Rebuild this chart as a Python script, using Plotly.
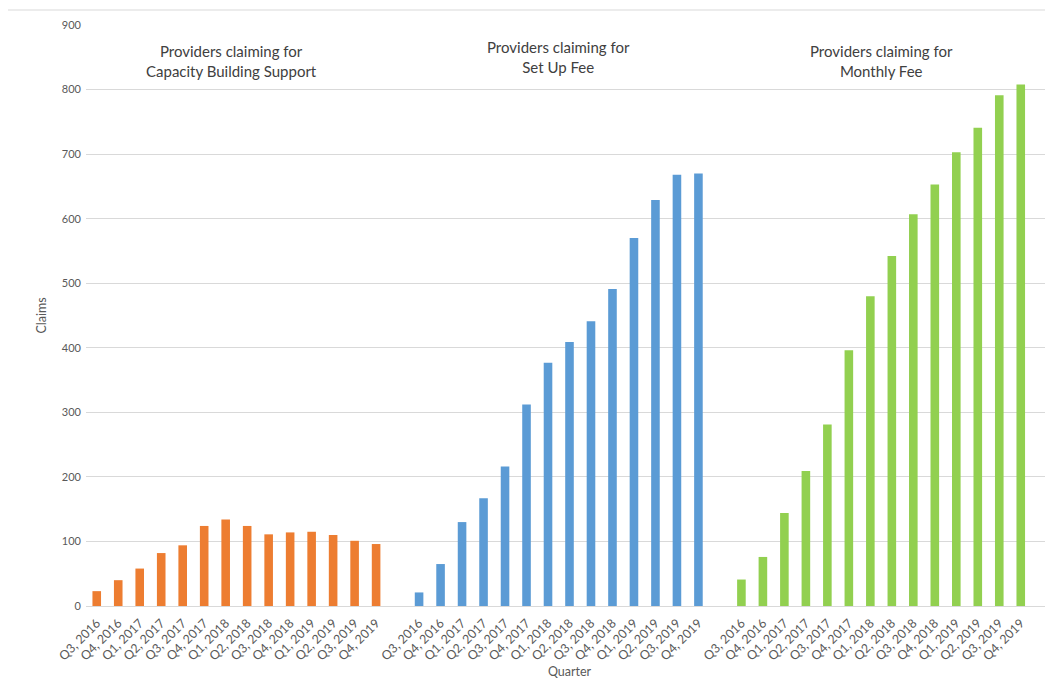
import plotly.graph_objects as go

quarters = ["Q3, 2016", "Q4, 2016", "Q1, 2017", "Q2, 2017", "Q3, 2017", "Q4, 2017",
            "Q1, 2018", "Q2, 2018", "Q3, 2018", "Q4, 2018", "Q1, 2019", "Q2, 2019",
            "Q3, 2019", "Q4, 2019"]

capacity_building = [23, 40, 58, 82, 94, 124, 134, 124, 111, 114, 115, 110, 101, 96]
set_up_fee = [21, 65, 130, 167, 216, 312, 377, 409, 441, 491, 570, 629, 668, 670]
monthly_fee = [41, 76, 144, 209, 281, 396, 480, 542, 607, 653, 703, 741, 791, 808]

group_titles = ["Providers claiming for<br>Capacity Building Support",
                "Providers claiming for<br>Set Up Fee",
                "Providers claiming for<br>Monthly Fee"]
colors = ["#ED7D31", "#5B9BD5", "#92D050"]
series = [capacity_building, set_up_fee, monthly_fee]

FONT = "Lato, 'Open Sans', sans-serif"
TICK_COLOR = "#595959"
GRID = "#d9d9d9"

fig = go.Figure()
tickvals, ticktext = [], []
stride = len(quarters) + 1  # one empty slot between groups
for g, vals in enumerate(series):
    xs = [g * stride + i for i in range(len(quarters))]
    tickvals += xs
    ticktext += quarters
    fig.add_trace(go.Bar(x=xs, y=vals, marker_color=colors[g], marker_line_width=0,
                         width=0.4, showlegend=False))

title_x = [6.25, stride + 6.5, 2 * stride + 6.5]
title_y = [845, 850, 845]
for g, t in enumerate(group_titles):
    fig.add_annotation(x=title_x[g], y=title_y[g], xref="x", yref="y", text=t,
                       showarrow=False, font=dict(family=FONT, size=15, color="#404040"),
                       align="center")

# outer chart border
fig.add_shape(type="rect", xref="paper", yref="paper", x0=-0.0817, x1=1.1,
              y0=-0.2, y1=1.0258, line=dict(color=GRID, width=1), layer="below")

fig.update_layout(
    width=1045, height=685,
    margin=dict(l=78, r=0, t=17, b=87),
    plot_bgcolor="white", paper_bgcolor="white",
    font=dict(family=FONT, color=TICK_COLOR, size=12),
    xaxis=dict(range=[-0.5, 44.5], tickvals=tickvals, ticktext=ticktext, tickangle=-45,
               showgrid=False, showline=True, linecolor=GRID, linewidth=1,
               ticklabelstandoff=4,
               tickfont=dict(size=12.5, color=TICK_COLOR), zeroline=False,
               title=dict(text="Quarter", font=dict(size=12.5, color=TICK_COLOR), standoff=4)),
    yaxis=dict(range=[0, 900], dtick=100, showgrid=True, gridcolor=GRID, gridwidth=1,
               zeroline=False, showline=False, ticklabelstandoff=4,
               tickfont=dict(size=11, color=TICK_COLOR),
               title=dict(text="Claims", font=dict(size=12.5, color=TICK_COLOR), standoff=12)),
    bargap=0.6,
)

fig.write_html("out.html")
